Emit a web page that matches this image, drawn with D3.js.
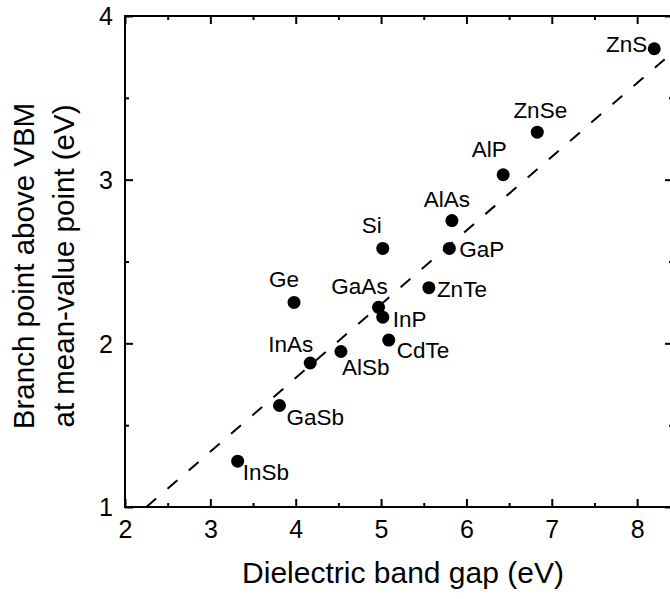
<!DOCTYPE html>
<html>
<head>
<meta charset="utf-8">
<script src="https://cdn.jsdelivr.net/npm/d3@7"></script>
<style>
  body { margin: 0; background: #fff; }
  svg text { font-family: "Liberation Sans", Arial, sans-serif; fill: #000; }
</style>
</head>
<body>
<figure style="margin:0"></figure>
<script>
const materials = ['ZnS', 'ZnSe', 'AlP', 'AlAs', 'GaP', 'Si', 'Ge', 'ZnTe', 'GaAs', 'InP', 'CdTe', 'AlSb', 'InAs', 'GaSb', 'InSb'];
const gap = [8.20, 6.83, 6.43, 5.83, 5.80, 5.02, 3.98, 5.56, 4.97, 5.02, 5.09, 4.53, 4.17, 3.81, 3.32];
const branch = [3.80, 3.29, 3.03, 2.75, 2.58, 2.58, 2.25, 2.34, 2.22, 2.16, 2.02, 1.95, 1.88, 1.62, 1.28];
const fitLine = [[2.25, 1.0], [8.42, 3.78]];
const xTicks = [2, 3, 4, 5, 6, 7, 8];
const yTicks = [1, 2, 3, 4];

// label placement: anchor, dx, dy from the dot centre
const labelPos = {
  ZnS: ['end', -7, 3], ZnSe: ['middle', 3, -14], AlP: ['middle', -14, -18],
  AlAs: ['middle', -5, -14], GaP: ['start', 10, 9], Si: ['middle', -11, -15],
  Ge: ['middle', -10, -15], ZnTe: ['start', 8, 9], GaAs: ['middle', -19, -13],
  InP: ['start', 10, 10], CdTe: ['start', 8, 18], AlSb: ['start', 1, 23],
  InAs: ['end', 3, -11], GaSb: ['start', 7, 19], InSb: ['start', 5, 19]
};

(() => {
  const width = 670;
  const height = 599;
  const left = 125, right = 673, top = 16, bottom = 507;

  const svg = d3.select('figure').append('svg')
    .attr('width', width)
    .attr('height', height);

  const x = d3.scaleLinear().domain([2, 8.42]).range([left, right]);
  const y = d3.scaleLinear().domain([1, 4]).range([bottom, top]);

  const xMinor = d3.range(2.5, 8.5, 1);
  const yMinor = d3.range(1.5, 4, 1);

  function ticks(axis, vals, size, labels) {
    return axis.tickValues(vals).tickSize(-size).tickSizeOuter(0)
      .tickFormat(labels ? d3.format('d') : '');
  }

  const sides = [
    [d3.axisBottom, x, `translate(0,${bottom})`, xTicks, xMinor, true],
    [d3.axisTop, x, `translate(0,${top})`, xTicks, xMinor, false],
    [d3.axisLeft, y, `translate(${left},0)`, yTicks, yMinor, true],
    [d3.axisRight, y, `translate(${right},0)`, yTicks, yMinor, false]
  ];

  sides.forEach(([mk, sc, tr, major, minor, labels], i) => {
    const gMaj = svg.append('g').attr('transform', tr)
      .call(ticks(mk(sc), major, 8, labels));
    const gMin = svg.append('g').attr('transform', tr)
      .call(ticks(mk(sc), minor, 4, false));
    [gMaj, gMin].forEach(g => {
      g.select('.domain').remove();
      g.selectAll('line').attr('stroke', '#000').attr('stroke-width', 2);
    });
    gMaj.selectAll('text').style('font-size', '25px');
    if (labels && i === 0) gMaj.selectAll('text').attr('y', 31).attr('dy', 0);
    if (labels && i === 2) gMaj.selectAll('text').attr('x', -12).attr('dy', '0.35em');
  });

  svg.append('rect')
    .attr('x', left).attr('y', top)
    .attr('width', right - left).attr('height', bottom - top)
    .attr('fill', 'none').attr('stroke', '#000').attr('stroke-width', 2);

  svg.append('path')
    .datum(fitLine)
    .attr('d', d3.line().x(d => x(d[0])).y(d => y(d[1])))
    .attr('fill', 'none')
    .attr('stroke', '#000')
    .attr('stroke-width', 2)
    .attr('stroke-dasharray', '13,15');

  const pts = materials.map((m, i) => ({name: m, gap: gap[i], bp: branch[i]}));

  svg.append('g').selectAll('circle')
    .data(pts)
    .join('circle')
      .attr('cx', d => x(d.gap))
      .attr('cy', d => y(d.bp))
      .attr('r', 6.5)
      .attr('fill', '#000');

  svg.append('g').selectAll('text')
    .data(pts)
    .join('text')
      .attr('x', d => x(d.gap) + labelPos[d.name][1])
      .attr('y', d => y(d.bp) + labelPos[d.name][2])
      .attr('text-anchor', d => labelPos[d.name][0])
      .style('font-size', '22.5px')
      .text(d => d.name);

  svg.append('text')
    .attr('x', 403).attr('y', 583)
    .attr('text-anchor', 'middle')
    .style('font-size', '30px')
    .text('Dielectric band gap (eV)');

  const yTitle = svg.append('text')
    .attr('transform', 'translate(34,266) rotate(-90)')
    .attr('text-anchor', 'middle')
    .style('font-size', '29.5px');
  yTitle.append('tspan').attr('x', 0).attr('y', 0).text('Branch point above VBM');
  yTitle.append('tspan').attr('x', 0).attr('y', 40).text('at mean-value point (eV)');
})();
</script>
</body>
</html>
